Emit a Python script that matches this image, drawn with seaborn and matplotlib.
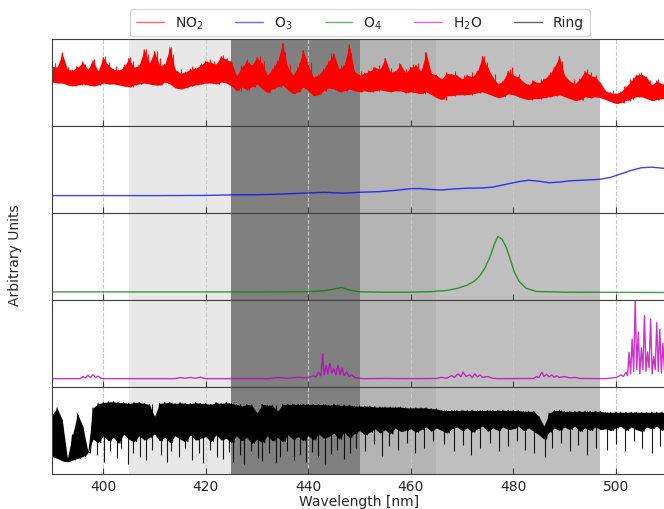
import numpy as np
import pandas as pd
import matplotlib
matplotlib.use("Agg")
import matplotlib.pyplot as plt
import seaborn as sns

# wavelength grid (nm) for the dense spectra: one upper and one lower reading per nm
wl_grid = list(range(390, 511))

no2_hi = [61, 60, 74, 58, 57, 60, 65, 58, 67, 56, 70, 62, 58, 57, 60, 69, 60, 62, 78, 64,
          76, 62, 63, 80, 58, 54, 55, 58, 59, 62, 66, 65, 63, 71, 68, 66, 51, 60, 66, 62,
          70, 64, 52, 58, 66, 84, 60, 52, 60, 77, 62, 50, 52, 58, 66, 74, 58, 62, 83, 56,
          52, 54, 56, 60, 58, 69, 55, 56, 63, 54, 60, 62, 56, 75, 54, 52, 48, 54, 53, 52,
          48, 52, 50, 56, 71, 60, 50, 43, 46, 56, 52, 50, 45, 42, 46, 44, 48, 52, 60, 71,
          52, 46, 43, 48, 56, 52, 50, 44, 36, 34, 33, 35, 40, 46, 52, 53, 50, 42, 46, 43,
          44]
no2_lo = [45, 44, 44, 42, 41, 42, 43, 42, 41, 42, 44, 43, 43, 42, 41, 40, 42, 43, 44, 43,
          42, 42, 45, 43, 39, 38, 39, 41, 42, 43, 44, 44, 43, 45, 44, 41, 36, 40, 37, 40,
          43, 38, 34, 38, 40, 42, 37, 33, 35, 40, 36, 31, 32, 36, 39, 38, 35, 36, 38, 36,
          35, 36, 35, 36, 37, 36, 35, 36, 36, 34, 35, 34, 33, 35, 32, 29, 27, 31, 31, 32,
          32, 32, 33, 34, 35, 33, 31, 29, 30, 33, 32, 30, 28, 27, 28, 28, 29, 30, 31, 32,
          30, 28, 26, 27, 30, 29, 30, 29, 27, 25, 23, 24, 26, 28, 30, 30, 28, 26, 27, 28,
          28]
# fine spikes sticking out of the top of the NO2 band
no2_spk_wl = [390.6, 391.4, 391.9, 393.2, 394.6, 395.8, 396.4, 397.6, 398.1, 399.3,
              400.4, 401.2, 402.5, 404.1, 405.2, 405.8, 407.3, 408.3, 408.7, 409.5,
              410.4, 411.0, 412.6, 413.3, 413.7, 415.2, 417.4, 419.1, 420.3, 420.9,
              421.7, 422.6, 423.4, 424.2, 426.8, 428.0, 428.5, 429.6, 430.5, 431.3,
              433.4, 434.6, 435.1, 435.5, 436.4, 438.2, 439.0, 439.5, 440.6, 443.4,
              444.5, 445.2, 446.3, 447.6, 448.0, 448.4, 450.3, 451.6, 452.6, 453.8,
              454.9, 456.2, 457.8, 459.1, 460.4, 461.5, 462.7, 463.2, 466.8, 468.6,
              470.3, 471.9, 473.6, 474.3, 474.8, 476.4, 479.3, 479.8, 481.1, 483.6,
              485.4, 487.2, 488.6, 489.0, 489.5, 491.8, 493.7, 494.3, 495.1, 496.2,
              499.5, 501.6, 502.7, 503.4, 504.5, 505.0, 506.7, 508.2, 509.4]
no2_spk = [64, 62, 76, 60, 61, 66, 63, 64, 69, 60,
           72, 65, 61, 63, 71, 66, 66, 79, 74, 68,
           77, 70, 66, 81, 74, 58, 61, 64, 67, 69,
           66, 68, 73, 70, 62, 69, 65, 66, 72, 67,
           62, 70, 85, 76, 63, 64, 78, 70, 65, 62,
           75, 70, 62, 72, 84, 75, 56, 57, 60, 62,
           70, 59, 64, 58, 63, 64, 76, 68, 55, 56,
           52, 55, 62, 72, 65, 53, 58, 60, 53, 47,
           48, 55, 64, 72, 66, 48, 52, 58, 55, 52,
           37, 41, 48, 50, 54, 55, 47, 48, 46]

o3_wl = [390, 400, 410, 420, 425, 430, 434, 437, 440, 443, 447, 450, 454, 457, 460, 462,
         464, 466, 468, 471, 474, 476, 479, 481, 483, 485, 487, 489, 491, 494, 497, 499,
         501, 503, 505, 507, 510]
o3 = [20, 20, 20, 20.2, 20.8, 21, 21.6, 22.3, 23, 23.8, 22.8, 23.8, 24.6, 26, 28, 28,
      27, 26.5, 27.5, 28.5, 28.8, 29.8, 33.5, 36, 37.7, 36.5, 34.8, 35.5, 37, 37.8, 38.8, 41,
      45, 49, 52, 52.7, 51]

o4_wl = [390, 400, 410, 420, 430, 436, 440, 443, 445, 446.5, 448, 450, 455, 460, 464, 467,
         469, 471, 472.5, 473.5, 474.5, 475.5, 476.3, 477, 477.8, 478.6, 479.3, 480.2, 481.2,
         482.5, 484.5, 490, 500, 510]
o4 = [9.3, 9.3, 9.3, 9.3, 9.2, 9.3, 9.6, 10.6, 12.5, 14.4, 11.5, 9.4, 9, 9, 9.6, 11,
      13.2, 17, 22, 28, 37, 50, 64, 73, 70, 61, 49, 32, 21, 13.5, 9.8, 9, 8.8, 8.6]

h2o_wl = [390, 395.5, 396, 396.5, 397, 397.5, 398, 398.5, 399, 399.5, 400, 414, 415, 416,
          417, 418, 419, 420, 432, 434, 436, 438, 440, 441, 441.5, 442, 442.5, 442.8, 443.1,
          443.5, 443.8, 444.2, 444.6, 445, 445.4, 445.8, 446.2, 446.6, 447, 447.5, 448,
          448.5, 449, 450, 451, 455, 460, 465, 466, 467, 468, 468.5, 469.2, 469.8, 470.2,
          470.8, 471.5, 472, 472.5, 473, 473.5, 474, 475, 476, 477, 484, 484.5, 485, 485.6,
          486, 486.5, 487, 487.5, 488, 488.5, 489, 490, 491, 492, 493, 498, 499.5, 500,
          500.5, 501, 501.5, 502, 502.3, 502.6, 502.9, 503.2, 503.5, 503.8, 504.1, 504.4,
          504.7, 505, 505.3, 505.6, 505.9, 506.2, 506.5, 506.8, 507.1, 507.4, 507.7, 508,
          508.3, 508.6, 508.9, 509.2, 509.5, 509.8, 510]
h2o = [9.5, 9.6, 12, 10.5, 13.5, 11, 14, 11, 12.5, 10, 9.6, 9.6, 10.8, 10, 11, 10.2, 11.2,
       9.6, 9.6, 10.8, 10, 11, 10.5, 13, 11.5, 17, 13, 38, 14, 25, 15, 27, 16, 21, 14, 25,
       14, 22, 13, 17, 12, 14, 11, 10, 9.6, 9.8, 9.6, 9.8, 11, 10.2, 13, 11, 15, 12, 17,
       12, 14, 11, 15, 11.5, 14, 11, 12, 10, 9.6, 9.8, 12, 11, 17, 12, 14.5, 11.5, 14, 11,
       13, 11, 12, 10.5, 11, 9.8, 9.6, 10.5, 11, 12, 14, 12, 17, 13, 40, 15, 55, 18, 100,
       20, 63, 15, 45, 20, 82, 18, 40, 22, 78, 15, 35, 20, 74, 18, 66, 16, 50, 20, 40, 15]

# Ring: top of the dense body, bottom of the body, and the deep Fraunhofer dips below it
ring_hi = [68, 76, 62, 18, 45, 69, 55, 26, 76, 81, 82, 83, 83, 82, 82, 81, 82, 82, 81, 80,
           66, 81, 82, 82, 81, 82, 81, 81, 82, 81, 81, 80, 82, 81, 82, 81, 80, 78, 80, 79,
           70, 80, 79, 79, 72, 80, 80, 80, 80, 80, 80, 80, 80, 80, 79, 80, 79, 79, 79, 78,
           78, 78, 78, 77, 77, 77, 77, 77, 77, 76, 76, 76, 76, 76, 75, 75, 73, 73, 73, 73,
           73, 73, 73, 73, 73, 73, 73, 73, 73, 73, 73, 73, 72, 72, 72, 66, 55, 70, 73, 73,
           72, 72, 72, 72, 72, 72, 72, 72, 71, 71, 71, 71, 71, 71, 71, 71, 71, 71, 71, 71,
           71]
ring_lo = [20, 18, 15, 14, 16, 18, 20, 24,
           40, 36, 44, 38, 42, 35, 46, 40, 37, 44, 39, 42,
           46, 38, 42, 36, 44, 40, 37, 45, 39, 41,
           43, 37, 45, 39, 41, 36, 44, 38, 42, 35,
           40, 36, 44, 38, 42, 37, 45, 40, 43, 38,
           44, 39, 46, 41, 43, 47, 40, 48, 42, 46,
           50, 45, 48, 52, 47, 51, 46, 53, 49, 50,
           52, 48, 51, 54, 49, 53, 50, 47, 52, 54,
           50, 53, 48, 52, 55, 49, 53, 50, 54, 51,
           52, 55, 50, 53, 49, 45, 40, 48, 53, 50,
           54, 51, 55, 49, 53, 50, 54, 51, 52, 50,
           53, 55, 50, 54, 51, 49, 54, 52, 55, 50, 53]
ring_dip_wl = [398.7, 400.2, 401.3, 402.6, 403.4, 404.8, 405.9, 407.1, 408.4, 409.6,
               411.2, 412.5, 413.3, 414.7, 416.0, 417.4, 418.6, 419.5, 420.8, 422.1,
               423.3, 424.6, 425.4, 426.7, 427.5, 428.9, 430.2, 431.0, 432.4, 433.7,
               434.5, 435.9, 437.2, 438.3, 439.6, 440.8, 441.9, 443.2, 444.4, 445.6,
               446.9, 448.2, 449.4, 451.0, 452.8, 454.3, 455.7, 457.6, 459.2, 460.9,
               462.6, 464.3, 466.5, 468.4, 470.1, 471.8, 473.5, 475.4, 477.2, 479.0,
               480.8, 482.3, 484.0, 486.1, 487.6, 489.3, 491.0, 492.7, 494.4, 496.1,
               498.2, 500.1, 501.8, 503.6, 505.2, 507.0, 508.7]
ring_dip = [22, 14, 26, 18, 30, 12, 24, 20, 16, 28,
            22, 14, 26, 19, 30, 16, 24, 13, 28, 20,
            17, 25, 14, 22, 12, 26, 18, 15, 24, 13,
            20, 27, 16, 22, 14, 25, 19, 12, 23, 28,
            17, 24, 30, 26, 34, 21, 32, 28, 36, 24,
            30, 38, 34, 27, 33, 22, 30, 36, 26, 32,
            38, 28, 24, 20, 30, 36, 26, 33, 22, 30,
            28, 34, 26, 38, 30, 24, 32]

labels = ["NO$_2$", "O$_3$", "O$_4$", "H$_2$O", "Ring"]
colors = ["red", "blue", "green", "m", "black"]
spans = [(405, 425, "#e8e8e8"), (425, 450, "#808080"), (450, 465, "#b4b4b4"), (465, 497, "#bfbfbf")]


def zigzag(hi, lo):
    # upper reading at each whole nm, lower reading half a nm later
    xs, ys = [], []
    for w, h, l in zip(wl_grid, hi, lo):
        xs += [w, w + 0.5]
        ys += [h, l]
    return pd.DataFrame({"wl": xs, "val": ys})


frames = [
    zigzag(no2_hi, no2_lo),
    pd.DataFrame({"wl": o3_wl, "val": o3}),
    pd.DataFrame({"wl": o4_wl, "val": o4}),
    pd.DataFrame({"wl": h2o_wl, "val": h2o}),
    zigzag(ring_hi, ring_lo),
]
bands = {0: (no2_hi, no2_lo), 4: (ring_hi, ring_lo)}
spikes = {0: (no2_spk_wl, no2_spk, no2_lo), 4: (ring_dip_wl, ring_dip, ring_hi)}
widths = [0.8, 1.0, 1.0, 1.0, 0.8]
alphas = [1.0, 0.75, 0.75, 0.8, 1.0]
ylims = [(0, 89), (0, 100), (0, 100), (0, 100), (0, 100)]

sns.set_style("ticks")
plt.rcParams["font.family"] = ["DejaVu Sans"]

fig = plt.figure(figsize=(6.64, 5.10), dpi=100)
left, width = 52 / 664, 615 / 664
bottom, panel_h = 35 / 510, 87 / 510

handles = []
axes = []
for i, (df, col, lab) in enumerate(zip(frames, colors, labels)):
    ax = fig.add_axes([left, bottom + (4 - i) * panel_h, width, panel_h])
    for x0, x1, c in spans:
        ax.axvspan(x0, x1, color=c, lw=0, zorder=0.2)
    if i in bands:
        hi, lo = bands[i]
        ax.fill_between(wl_grid, lo, hi, color=col, lw=0, zorder=1.5)
        sx, sy, base = spikes[i]
        # each spike runs from the band reading at that nm to its own value
        ax.vlines(sx, [base[int(w) - 390] for w in sx], sy, color=col, lw=0.8,
                  alpha=0.9, zorder=1.6)
    sns.lineplot(data=df, x="wl", y="val", ax=ax, color=col, lw=widths[i], alpha=alphas[i],
                 estimator=None, sort=True, legend=False, zorder=2)
    handles.append(plt.Line2D([], [], color=col, lw=1.0, alpha=0.6))
    ax.set_xlim(390, 510)
    ax.set_ylim(*ylims[i])
    ax.set_yticks([])
    ax.set_xticks([400, 420, 440, 460, 480, 500])
    ax.set_axisbelow(True)
    ax.grid(axis="x", linestyle="--", color="0.78", linewidth=0.8)
    ax.tick_params(axis="x", direction="in", length=4, color="0.25", labelsize=10)
    for s in ax.spines.values():
        s.set_color("0.25")
    ax.set_xlabel("")
    ax.set_ylabel("")
    if i < 4:
        ax.tick_params(axis="x", labelbottom=False)
    axes.append(ax)

axes[-1].set_xlabel("Wavelength [nm]", fontsize=10, labelpad=1)
fig.text(15 / 664, 0.5, "Arbitrary Units", rotation=90, ha="center", va="center", fontsize=10)

fig.legend(handles, labels, loc="upper center", bbox_to_anchor=(360 / 664, 1 - 3 / 510),
           ncol=5, fontsize=10, frameon=True, columnspacing=2.3)

fig.savefig("out.png", dpi=100)
